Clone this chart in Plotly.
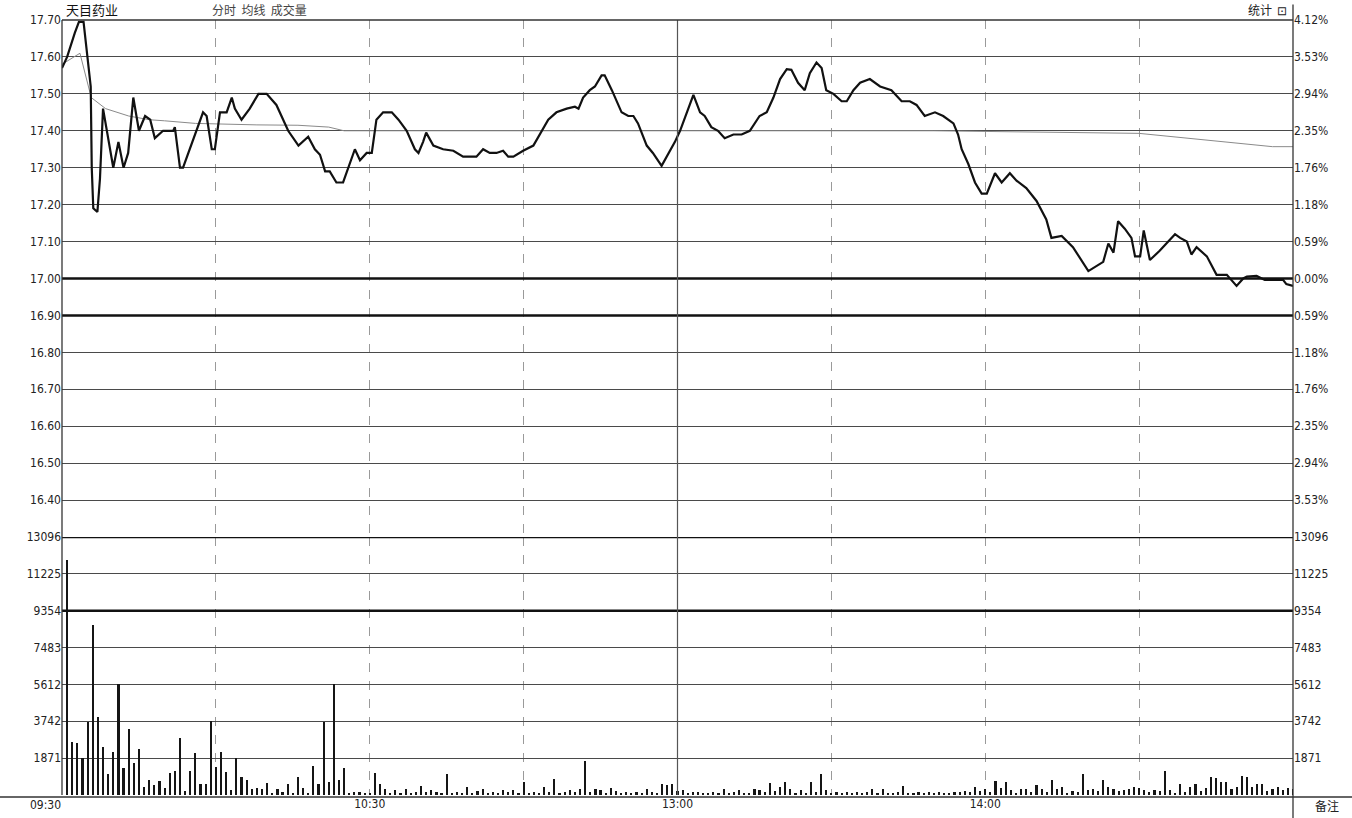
import plotly.graph_objects as go

# ---------------- data ----------------
price_min = [0, 1, 2.5, 3.3, 4.2, 5.1, 5.6, 5.8, 6.1, 6.9, 7.4, 8.0, 10, 11, 12, 12.9, 13.9, 15, 16.2, 17.2,
             18.1, 19.7, 21.7, 22, 23, 23.6, 25.6, 27.5, 28.2, 29.2, 29.8, 30.8, 32.1, 33.1, 33.7, 35, 36.6,
             38.3, 39.9, 41.8, 44.1, 46.1, 48, 49.3, 50.3, 51.3, 52.2, 53.5, 54.8, 57.1, 58.1, 59.4, 60.4,
             61.3, 62.6, 64.3, 65.6, 67.2, 68.8, 69.5, 70.4, 71, 72.4, 74.3, 76.3, 78.2, 80.8, 82.1, 83.4,
             84.7, 86, 87, 88, 89.9, 91.9, 93.2, 94.8, 96.4, 98.4, 100, 100.7, 101.6, 102.9, 103.9, 105.2,
             105.8, 107.2, 109.1, 110.4, 111.4, 112.3, 114, 115.2, 116.9, 117.9, 119.5, 120.5, 121.8, 123.1,
             124.4, 125.3, 126.6, 127.9, 129.2, 130.9, 132.5, 134.1, 136, 137.4, 138.7, 140, 141.3, 142.2,
             143.5, 144.8, 145.8, 147.1, 148.1, 149, 150.4, 152, 153, 154.3, 155.6, 157.5, 159.5, 161.7,
             163.7, 165.3, 166.6, 168.2, 170.2, 171.8, 173.8, 174.7, 175.4, 176.7, 178, 179.3, 180.3, 181.9,
             183.2, 184.8, 186.1, 188, 190, 191.9, 192.9, 194.9, 197.1, 200.1, 203, 204, 205, 205.9, 207.2,
             208.5, 209.2, 210.2, 210.9, 212.1, 214, 215.7, 217, 218, 219.3, 220.2, 221.2, 223.2, 225.1,
             227.1, 229, 230.3, 231, 232.9, 234.5, 238.1, 238.7, 240]
price_val = [17.57, 17.60, 17.665, 17.695, 17.695, 17.59, 17.52, 17.30, 17.19, 17.18, 17.27, 17.46, 17.30,
             17.37, 17.30, 17.34, 17.49, 17.40, 17.44, 17.43, 17.38, 17.40, 17.40, 17.41, 17.30, 17.30,
             17.375, 17.45, 17.44, 17.35, 17.35, 17.45, 17.45, 17.49, 17.46, 17.43, 17.46, 17.50, 17.50,
             17.47, 17.40, 17.36, 17.384, 17.35, 17.335, 17.29, 17.29, 17.26, 17.26, 17.35, 17.32, 17.34,
             17.34, 17.43, 17.45, 17.45, 17.43, 17.40, 17.35, 17.34, 17.37, 17.395, 17.36, 17.35, 17.346,
             17.33, 17.33, 17.35, 17.34, 17.34, 17.346, 17.33, 17.33, 17.346, 17.36, 17.39, 17.43, 17.45,
             17.46, 17.465, 17.46, 17.49, 17.51, 17.52, 17.55, 17.55, 17.51, 17.45, 17.44, 17.44, 17.42,
             17.36, 17.34, 17.305, 17.33, 17.37, 17.40, 17.447, 17.497, 17.45, 17.44, 17.41, 17.40, 17.38,
             17.39, 17.39, 17.40, 17.44, 17.45, 17.49, 17.54, 17.567, 17.565, 17.53, 17.51, 17.556, 17.585,
             17.57, 17.51, 17.50, 17.48, 17.48, 17.51, 17.53, 17.54, 17.52, 17.51, 17.48, 17.48, 17.47,
             17.44, 17.45, 17.44, 17.42, 17.39, 17.35, 17.31, 17.26, 17.23, 17.23, 17.285, 17.26, 17.285,
             17.265, 17.245, 17.21, 17.16, 17.11, 17.115, 17.085, 17.02, 17.045, 17.095, 17.07, 17.155,
             17.135, 17.11, 17.06, 17.06, 17.13, 17.05, 17.075, 17.10, 17.12, 17.11, 17.10, 17.065, 17.085,
             17.06, 17.01, 17.01, 16.98, 17.00, 17.005, 17.007, 16.996, 16.996, 16.985, 16.98]

avg_min = [0, 3.5, 5.7, 8.5, 13, 17, 20, 26, 38, 46, 52, 55, 100, 170, 210, 223, 236, 240]
avg_val = [17.58, 17.61, 17.49, 17.46, 17.44, 17.43, 17.427, 17.42, 17.416, 17.415, 17.41, 17.40, 17.40,
           17.40, 17.393, 17.375, 17.357, 17.357]

vol_min = list(range(1, 241))
vol_val = [11930, 2700, 2620, 1860, 3720, 8630, 3975, 2450, 1070, 2200,
           5630, 1390, 3350, 1640, 2330, 420, 760, 510, 730, 340,
           1100, 1220, 2880, 200, 1220, 2120, 550, 550, 3760, 1440,
           2180, 1190, 270, 1860, 915, 750, 290, 370, 300, 630,
           120, 310, 170, 560, 90, 930, 340, 80, 1470, 560,
           3720, 660, 5630, 760, 1370, 120, 170, 170, 90, 60,
           1110, 580, 280, 120, 250, 90, 330, 110, 165, 447,
           130, 250, 165, 80, 1076, 100, 165, 90, 414, 120,
           200, 280, 110, 165, 90, 250, 130, 250, 100, 662,
           120, 165, 90, 414, 140, 828, 100, 165, 250, 130,
           280, 1705, 150, 330, 250, 110, 380, 200, 90, 165,
           120, 165, 100, 330, 140, 120, 546, 497, 580, 200,
           250, 100, 130, 165, 90, 120, 165, 100, 330, 120,
           165, 250, 110, 90, 330, 250, 140, 613, 180, 414,
           662, 280, 120, 250, 100, 662, 150, 1043, 250, 120,
           165, 100, 140, 90, 165, 120, 150, 330, 110, 330,
           120, 90, 150, 447, 120, 100, 140, 90, 130, 110,
           150, 100, 120, 140, 160, 200, 150, 414, 200, 330,
           150, 712, 380, 662, 250, 100, 330, 280, 150, 497,
           330, 150, 745, 330, 414, 120, 200, 150, 1076, 250,
           330, 180, 778, 414, 330, 216, 250, 330, 414, 380,
           250, 150, 250, 180, 1209, 250, 120, 580, 165, 414,
           580, 200, 350, 911, 878, 662, 662, 300, 414, 944,
           911, 414, 580, 546, 200, 330, 414, 250, 380, 300]

prev_close = 17.00
price_ticks = [17.70, 17.60, 17.50, 17.40, 17.30, 17.20, 17.10, 17.00, 16.90, 16.80, 16.70, 16.60, 16.50, 16.40]
pct_labels = ["4.12%", "3.53%", "2.94%", "2.35%", "1.76%", "1.18%", "0.59%", "0.00%",
              "0.59%", "1.18%", "1.76%", "2.35%", "2.94%", "3.53%"]
vol_ticks = [1871, 3742, 5612, 7483, 9354, 11225, 13096]
time_ticks = [30, 60, 90, 120, 150, 180, 210]
time_labels = ["", "10:30", "", "13:00", "", "14:00", ""]

# ---------------- figure ----------------
FONT = "Liberation Sans Narrow, DejaVu Sans Condensed, Liberation Sans, sans-serif"
split = 258 / 775

fig = go.Figure()
fig.add_trace(go.Scatter(x=avg_min, y=avg_val, mode="lines", line=dict(color="#8a8a8a", width=1),
                         xaxis="x", yaxis="y", hoverinfo="skip"))
fig.add_trace(go.Scatter(x=price_min, y=price_val, mode="lines", line=dict(color="#111111", width=2.2),
                         xaxis="x", yaxis="y"))
fig.add_trace(go.Bar(x=vol_min, y=vol_val, marker=dict(color="#151515", line=dict(width=0)),
                     width=0.42, xaxis="x2", yaxis="y2"))

grid_col = "#4a4a4a"
tick_font = dict(family=FONT, size=12, color="#222222")

fig.update_layout(
    width=1352, height=818, autosize=False,
    margin=dict(l=62, r=59, t=20, b=23, pad=0, autoexpand=False),
    paper_bgcolor="white", plot_bgcolor="white",
    showlegend=False, bargap=0,
    xaxis=dict(domain=[0, 1], range=[0, 240], anchor="y", tickvals=time_ticks, showticklabels=False,
               showgrid=True, gridcolor="#9a9a9a", griddash="dash", gridwidth=1, zeroline=False,
               ticks="", showline=False, automargin=False),
    xaxis2=dict(domain=[0, 1], range=[0, 240], anchor="y2", matches="x", tickvals=time_ticks,
                ticktext=time_labels, showgrid=True, gridcolor="#9a9a9a", griddash="dash", gridwidth=1,
                zeroline=False, ticks="", showline=False, tickfont=tick_font, automargin=False),
    yaxis=dict(domain=[split, 1], range=[16.30, 17.70], tickvals=price_ticks,
               ticktext=[f"{v:.2f}" for v in price_ticks], showgrid=True, gridcolor=grid_col,
               gridwidth=1.3, zeroline=False, ticks="", tickfont=tick_font, side="left", automargin=False),
    yaxis3=dict(overlaying="y", range=[16.30, 17.70], tickvals=price_ticks, ticktext=pct_labels,
                side="right", showgrid=False, zeroline=False, ticks="", tickfont=tick_font, anchor="x",
                automargin=False),
    yaxis2=dict(domain=[0, split], range=[0, 13096], tickvals=vol_ticks, ticktext=[str(v) for v in vol_ticks],
                showgrid=True, gridcolor=grid_col, gridwidth=1.3, zeroline=False, ticks="",
                tickfont=tick_font, side="left", automargin=False),
    yaxis4=dict(overlaying="y2", range=[0, 13096], tickvals=vol_ticks, ticktext=[str(v) for v in vol_ticks],
                side="right", showgrid=False, zeroline=False, ticks="", tickfont=tick_font, anchor="x2",
                automargin=False),
)

# invisible traces so the right-hand axes render
fig.add_trace(go.Scatter(x=[0], y=[17.0], xaxis="x", yaxis="y3", mode="markers",
                         marker=dict(opacity=0), hoverinfo="skip"))
fig.add_trace(go.Scatter(x=[0], y=[0], xaxis="x2", yaxis="y4", mode="markers",
                         marker=dict(opacity=0), hoverinfo="skip"))

shapes = []
# emphasised horizontal lines
for yv in [prev_close, 16.90]:
    shapes.append(dict(type="line", xref="paper", yref="y", x0=0, x1=1, y0=yv, y1=yv,
                       line=dict(color="#111111", width=2.4)))
for yv in [9354, 13096]:
    shapes.append(dict(type="line", xref="paper", yref="y2", x0=0, x1=1, y0=yv, y1=yv,
                       line=dict(color="#111111", width=2.4)))
# midday separator
shapes.append(dict(type="line", xref="x", yref="paper", x0=120, x1=120, y0=0, y1=1,
                   line=dict(color="#555555", width=1.2)))
# frame
shapes.append(dict(type="line", xref="paper", yref="paper", x0=0, x1=0, y0=0, y1=1,
                   line=dict(color="#333333", width=1.3)))
shapes.append(dict(type="line", xref="paper", yref="paper", x0=0, x1=1, y0=1, y1=1,
                   line=dict(color="#333333", width=1.3)))
shapes.append(dict(type="line", xref="paper", yref="paper", x0=1, x1=1, y0=-0.0297, y1=1.02,
                   line=dict(color="#333333", width=1.3)))
shapes.append(dict(type="line", xref="paper", yref="paper", x0=-0.0504, x1=1.048, y0=-0.0026, y1=-0.0026,
                   line=dict(color="#333333", width=1.3)))
fig.update_layout(shapes=shapes)

ann = [
    dict(text="天目药业", x=0.002, y=1.013, xanchor="left", yanchor="middle",
         font=dict(family="Noto Sans CJK SC", size=13, color="#111111")),
    dict(text="分时  均线  成交量", x=0.120, y=1.013, xanchor="left", yanchor="middle",
         font=dict(family="Noto Sans CJK SC", size=12, color="#444444")),
    dict(text="统计  ⊡", x=0.997, y=1.013, xanchor="right", yanchor="middle",
         font=dict(family="Noto Sans CJK SC", size=12, color="#222222")),
    dict(text="备注", x=1.0276, y=-0.0135, xanchor="center", yanchor="middle",
         font=dict(family="Noto Sans CJK SC", size=12, color="#222222")),
    dict(text="09:30", x=-0.0138, y=-0.0135, xanchor="center", yanchor="middle",
         font=tick_font),
]
for a in ann:
    a.update(xref="paper", yref="paper", showarrow=False)
fig.update_layout(annotations=ann)

# remove the default page margin so the figure fills the window exactly
fig.write_html("out.html", config={"displayModeBar": False},
               post_script="document.body.style.margin='0';document.body.style.overflow='hidden';")
